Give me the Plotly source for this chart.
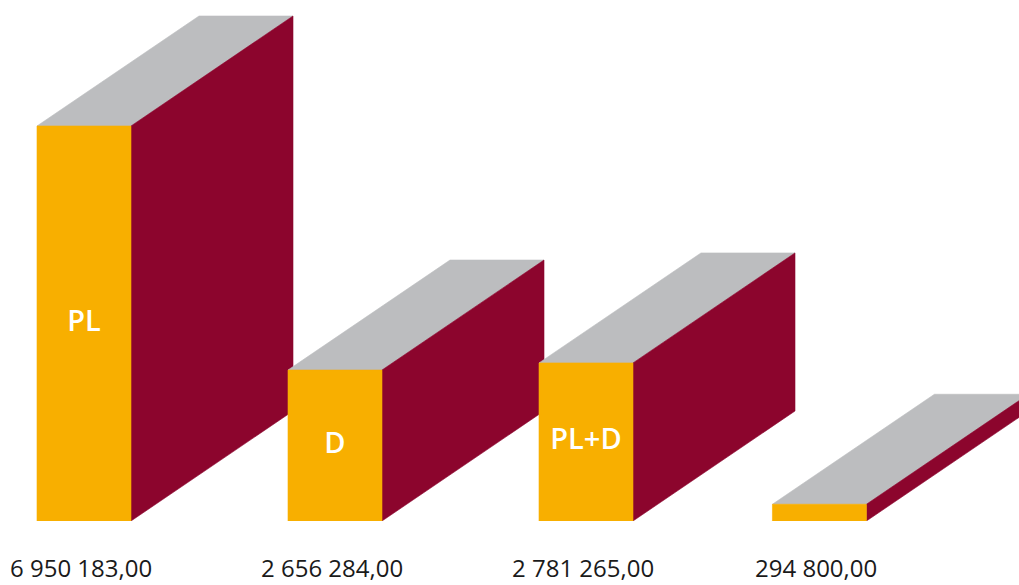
import plotly.graph_objects as go

# ---- data ----
BAR_LABELS = ["PL", "D", "PL+D", ""]
VALUES = [6950183.00, 2656284.00, 2781265.00, 294800.00]

# ---- layout constants (axis units) ----
X_POS = [0.0, 1.0, 2.0, 2.93]      # bar centres
BAR_W = 0.3745                      # front face width
DEPTH_X = 0.6454                    # oblique depth, x units
Y_PER_PX = 6950183.0 / 395.0        # value units per pixel
DEPTH_Y = 110 * Y_PER_PX            # oblique depth, value units

FRONT = "#F8AF00"
SIDE = "#8C052D"
TOP = "#BCBDBF"

def fmt(v):
    return f"{v:,.2f}".replace(",", " ").replace(".", ",")

def poly(xs, ys, color):
    return go.Scatter(
        x=xs + [xs[0]], y=ys + [ys[0]], mode="lines", fill="toself",
        fillcolor=color, line=dict(color=color, width=0.6),
        hoverinfo="skip", showlegend=False,
    )

fig = go.Figure()
for xc, v in zip(X_POS, VALUES):
    x0, x1 = xc - BAR_W / 2, xc + BAR_W / 2
    # top face
    fig.add_trace(poly([x0, x1, x1 + DEPTH_X, x0 + DEPTH_X],
                       [v, v, v + DEPTH_Y, v + DEPTH_Y], TOP))
    # side face
    fig.add_trace(poly([x1, x1 + DEPTH_X, x1 + DEPTH_X, x1],
                       [v, v + DEPTH_Y, DEPTH_Y, 0], SIDE))
    # front face
    fig.add_trace(poly([x0, x1, x1, x0], [0, 0, v, v], FRONT))

# labels inside the front faces
fig.add_trace(go.Scatter(
    x=X_POS, y=[v / 2 for v in VALUES], mode="text", text=BAR_LABELS,
    textfont=dict(family="Open Sans", size=29, color="white", weight=600),
    hoverinfo="skip", showlegend=False,
))

# value labels below
for xc, v in zip(X_POS, VALUES):
    fig.add_annotation(
        x=xc - 0.012, y=0, xref="x", yref="paper", text=fmt(v),
        showarrow=False, yanchor="bottom", yshift=-64, borderpad=0,
        font=dict(family="Open Sans", size=24, color="#1a1a1a"),
    )

y_top = 521 * Y_PER_PX
fig.update_layout(
    width=1019, height=585,
    margin=dict(l=0, r=0, t=0, b=64),
    paper_bgcolor="white", plot_bgcolor="white",
    showlegend=False,
    xaxis=dict(range=[-84 / 251, (1019 - 84) / 251], visible=False, fixedrange=True),
    yaxis=dict(range=[0, y_top], visible=False, fixedrange=True),
)

fig.write_html(
    "out.html",
    config={"displayModeBar": False},
    post_script="document.body.style.margin='0';document.body.style.overflow='hidden';",
)
